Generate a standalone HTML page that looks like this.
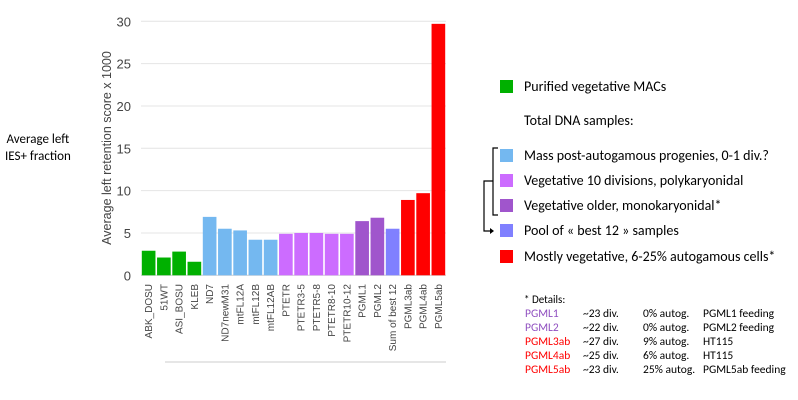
<!DOCTYPE html>
<html><head><meta charset="utf-8"><style>
body{margin:0;background:#fff;font-family:"Liberation Sans",sans-serif}
#root{position:relative;width:798px;height:400px;overflow:hidden}
.t{position:absolute;font-family:Carlito,"Liberation Sans",sans-serif;color:#000;white-space:nowrap}
.sw{position:absolute;width:13px;height:13px}
</style></head><body><div id="root">
<div class="t" style="left:5px;top:131px;font-size:13px;text-align:center;line-height:17px">Average left<br>IES+ fraction</div>
<svg id="chart" width="470" height="400" style="position:absolute;left:0;top:0"></svg>
<div id="legend"></div>
<svg width="30" height="100" style="position:absolute;left:478px;top:140px">
<path d="M20 8 H15 V75 H20 M15 41 H6 V91 H12" fill="none" stroke="#000" stroke-width="1.2"/>
<path d="M12 88 L16 91 L12 94Z" fill="#000"/></svg>
<div id="details"></div>
</div>
<script>
const categories=["ABK_DOSU","51WT","ASI_BOSU","KLEB","ND7","ND7newM31","mtFL12A","mtFL12B","mtFL12AB","PTETR","PTETR3-5","PTETR5-8","PTETR8-10","PTETR10-12","PGML1","PGML2","Sum of best 12","PGML3ab","PGML4ab","PGML5ab"];
const values=[2.9,2.1,2.8,1.6,6.9,5.5,5.3,4.2,4.2,4.9,5.0,5.0,4.9,4.9,6.4,6.8,5.5,8.9,9.7,29.7];
const groups=[0,0,0,0,1,1,1,1,1,2,2,2,2,2,3,3,4,5,5,5];
const groupColors=["#00b000","#74b8f0","#cc6cff","#a055cc","#8080ff","#ff0000"];
const yTicks=[0,5,10,15,20,25,30];
const NS="http://www.w3.org/2000/svg";
const svg=document.getElementById('chart');
const x0=141,x1=446,yB=275.3,yT=21.3,ymax=30;
const y=v=>yB-(v/ymax)*(yB-yT);
const step=(x1-x0)/categories.length;
const xc=i=>x0+step*(i+0.5);
function mk(tag,at){const e=document.createElementNS(NS,tag);for(const k in at)e.setAttribute(k,at[k]);svg.appendChild(e);return e;}
yTicks.forEach(t=>{
 const l=mk('line',{x1:x0,x2:x1,y1:y(t),y2:y(t),stroke:t===0?'#ccc':'#e4e4e4','stroke-width':1});
 
 
 const tx=mk('text',{x:131,y:y(t)+5,'text-anchor':'end','font-size':13,fill:'#444','font-family':'Liberation Sans'});
 tx.textContent=t;
 
 
});
const yt=mk('text',{transform:'translate(111,148) rotate(-90)','text-anchor':'middle','font-size':12.5,fill:'#444','font-family':'Liberation Sans'});
yt.textContent='Average left retention score x 1000';


values.forEach((v,i)=>{
 const bw=step-1.6;
 const r=mk('rect',{x:xc(i)-bw/2,y:y(v),width:bw,height:yB-y(v),fill:groupColors[groups[i]]});
 
 
 const tx=mk('text',{transform:`translate(${xc(i)+3.5},284) rotate(-90)`,'text-anchor':'end','font-size':10,fill:'#444','font-family':'Liberation Sans'});
 tx.textContent=categories[i];
 
 
});
const bl=mk('line',{x1:165,x2:446,y1:362,y2:362,stroke:'#ccc'});



const legendLabels=["Purified vegetative MACs",null,"Mass post-autogamous progenies, 0-1 div.?","Vegetative 10 divisions, polykaryonidal","Vegetative older, monokaryonidal*","Pool of « best 12 » samples","Mostly vegetative, 6-25% autogamous cells*"];
const legendY=[87,null,156,181,206,231,257];
const lg=document.getElementById('legend');
let gi=0;
legendLabels.forEach((lab,k)=>{
 if(lab===null){const d=document.createElement('div');d.className='t';d.style.cssText='left:524px;top:112px;font-size:14px';d.textContent='Total DNA samples:';
 
 
 lg.appendChild(d);return;}
 const s=document.createElement('div');s.className='sw';s.style.cssText=`left:500px;top:${legendY[k]-7}px;background:${groupColors[gi]}`;
 
 
 lg.appendChild(s);
 const d=document.createElement('div');d.className='t';d.style.cssText=`left:524px;top:${legendY[k]-9}px;font-size:14px`;d.textContent=lab;
 
 
 lg.appendChild(d);gi++;
});
const det=[["PGML1","~23 div.","0% autog.","PGML1 feeding","#9050c0"],["PGML2","~22 div.","0% autog.","PGML2 feeding","#9050c0"],["PGML3ab","~27 div.","9% autog.","HT115","#ff0000"],["PGML4ab","~25 div.","6% autog.","HT115","#ff0000"],["PGML5ab","~23 div.","25% autog.","PGML5ab feeding","#ff0000"]];
const dd=document.getElementById('details');
const h=document.createElement('div');h.className='t';h.style.cssText='left:524px;top:293px;font-size:11px';h.textContent='* Details:';


dd.appendChild(h);
const cx=[525,583,643,703];
det.forEach((r,k)=>{for(let c=0;c<4;c++){const d=document.createElement('div');d.className='t';d.style.cssText=`left:${cx[c]}px;top:${307+k*14}px;font-size:11.5px;color:${c===0?r[4]:'#000'}`;d.textContent=r[c];
 
 
 dd.appendChild(d);}});
</script></body></html>
